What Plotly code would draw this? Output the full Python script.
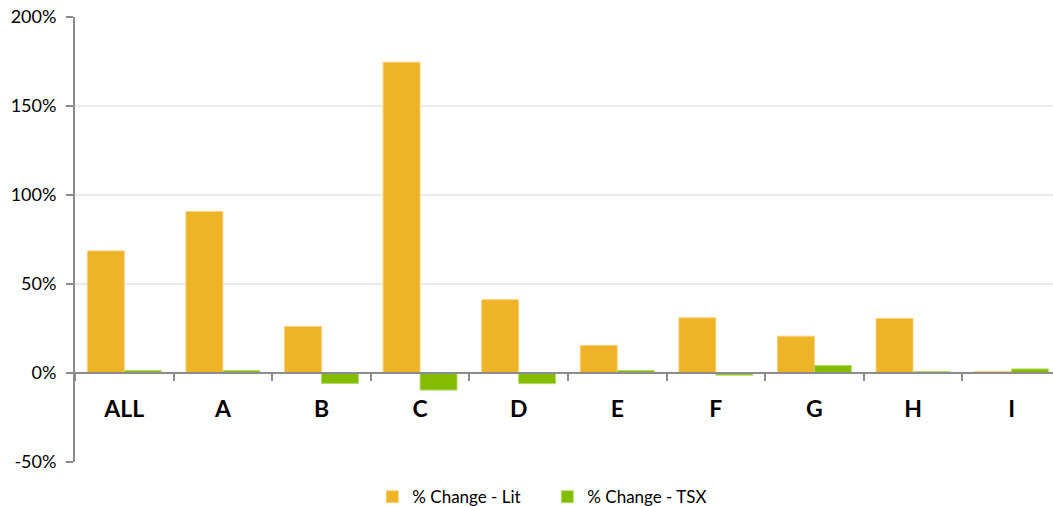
import plotly.graph_objects as go

categories = ["ALL", "A", "B", "C", "D", "E", "F", "G", "H", "I"]
lit_change = [68.6, 90.7, 26.1, 174.6, 41.2, 15.5, 31.0, 20.7, 30.6, 0.9]
tsx_change = [1.4, 1.4, -5.9, -9.6, -6.0, 1.4, -1.2, 4.2, 0.8, 2.3]
y_ticks = [-50, 0, 50, 100, 150, 200]
y_tick_labels = ["-50%", "0%", "50%", "100%", "150%", "200%"]

FONT = "Lato, 'Open Sans', sans-serif"

fig = go.Figure()
fig.add_trace(go.Bar(
    x=categories, y=lit_change, name="% Change - Lit",
    marker=dict(color="#EFB327", line=dict(color="#F6D27E", width=1)),
))
fig.add_trace(go.Bar(
    x=categories, y=tsx_change, name="% Change - TSX",
    marker=dict(color="#84BD00", line=dict(color="#B5DA6A", width=1)),
))

fig.update_layout(
    width=1053, height=506,
    margin=dict(l=75, r=0, t=17, b=44, autoexpand=False),
    plot_bgcolor="white", paper_bgcolor="white",
    barmode="group", bargap=0.25, bargroupgap=0,
    font=dict(family=FONT, color="#000000"),
    legend=dict(
        orientation="h", x=0.304, xanchor="left", y=-0.079, yanchor="middle",
        font=dict(size=17, family=FONT), traceorder="normal",
        entrywidth=130, entrywidthmode="pixels",
    ),
    xaxis=dict(
        type="category", range=[-0.5, 9.42],
        anchor="free", position=0.2,
        showline=True, linecolor="#8C8C8C", linewidth=2,
        ticks="outside", tickson="boundaries", ticklen=7, tickcolor="#8C8C8C", tickwidth=2,
        tickfont=dict(size=23, family=FONT, weight="bold"),
        ticklabelstandoff=15,
        showgrid=False, zeroline=False,
    ),
    yaxis=dict(
        range=[-50, 200], tickvals=y_ticks, ticktext=y_tick_labels,
        showline=True, linecolor="#8C8C8C", linewidth=2,
        ticks="outside", ticklen=7, tickcolor="#8C8C8C", tickwidth=2,
        tickfont=dict(size=18, family=FONT),
        ticklabelstandoff=6,
        showgrid=True, gridcolor="#EBEBEB", gridwidth=1.5,
        zeroline=False,
    ),
)

fig.write_html("out.html")
